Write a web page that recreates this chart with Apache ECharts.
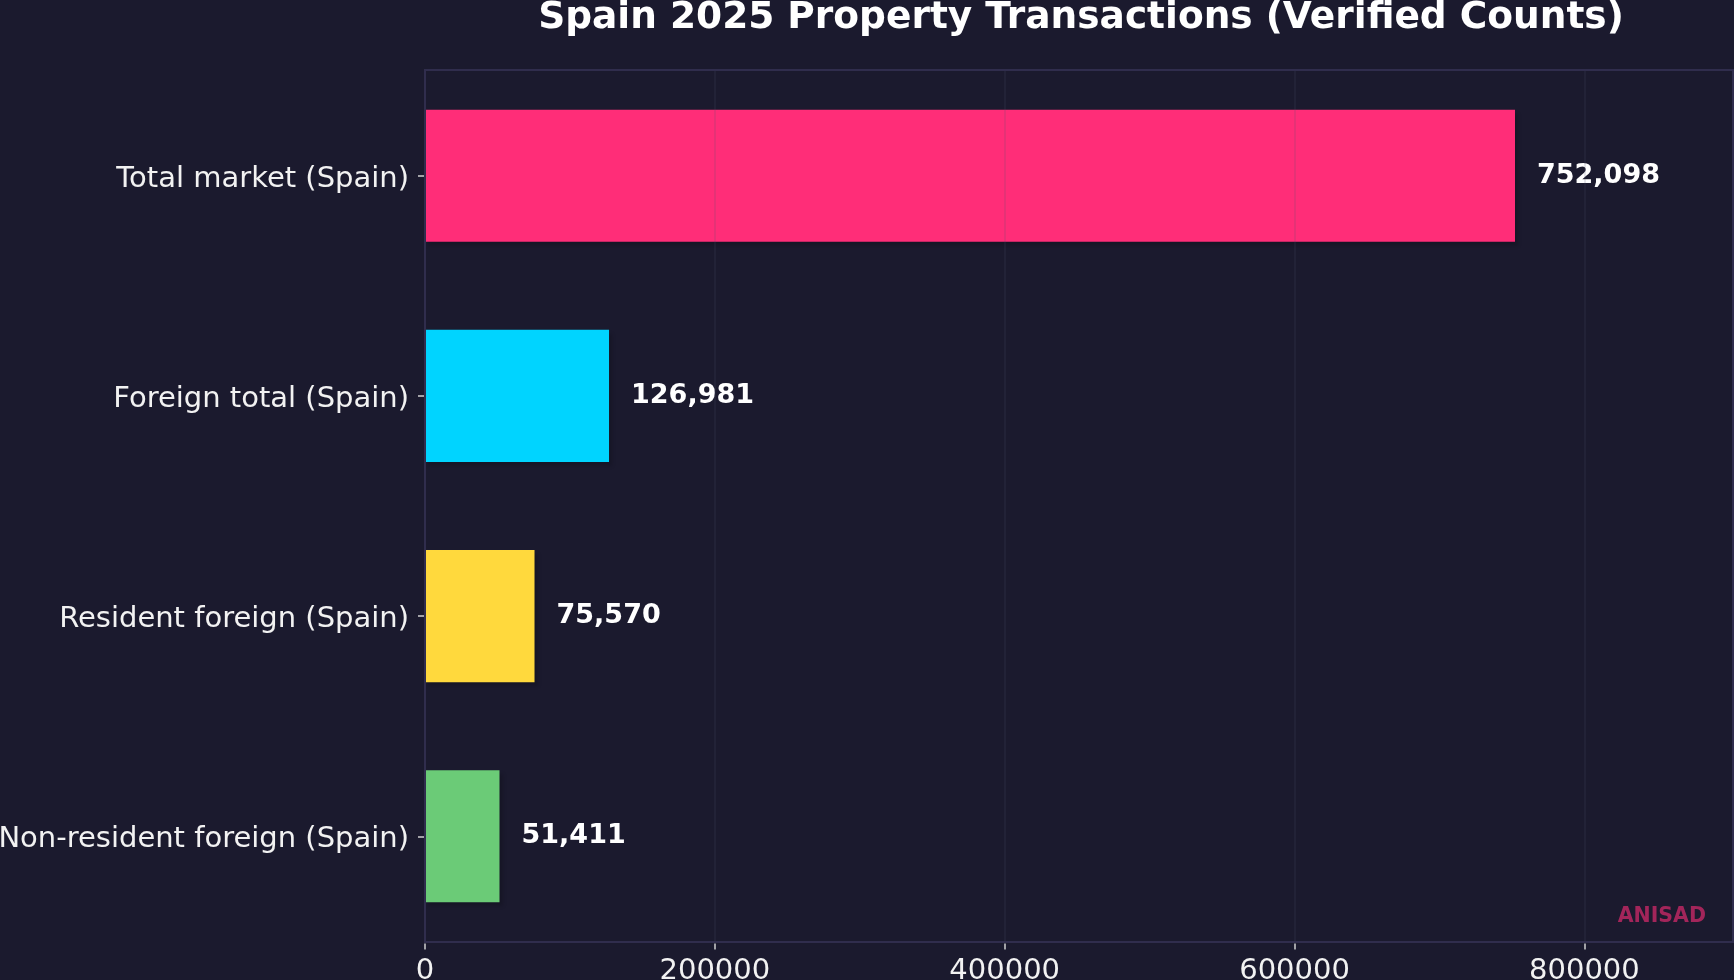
<!DOCTYPE html>
<html>
<head>
<meta charset="utf-8">
<script src="https://cdn.jsdelivr.net/npm/echarts@6/dist/echarts.min.js"></script>
<style>
html,body{margin:0;padding:0;background:#1b1a2e;}
#chart{width:1734px;height:980px;}
</style>
</head>
<body>
<div id="chart"></div>
<script>
const categories = ['Total market (Spain)', 'Foreign total (Spain)', 'Resident foreign (Spain)', 'Non-resident foreign (Spain)'];
const values = [752098, 126981, 75570, 51411];
const xTickStep = 200000;
const titleText = 'Spain 2025 Property Transactions (Verified Counts)';
const watermark = 'ANISAD';

const palette = ['#ff2d78', '#00d4ff', '#ffd93d', '#6bcb77'];
const xMax = Math.max(...values) * 1.2;
const FONT = 'DejaVu Sans';

const chart = echarts.init(document.getElementById('chart'), null, {renderer: 'canvas'});
chart.setOption({
  backgroundColor: '#1b1a2e',
  animation: false,
  title: {
    text: titleText,
    left: 1076,
    textAlign: 'center',
    top: -6,
    textStyle: {color: '#ffffff', fontFamily: FONT, fontWeight: 'bold', fontSize: 37.5}
  },
  grid: [
    {left: 425, right: 1, top: 65.6, bottom: 33.6, containLabel: false, outerBoundsMode: 'none'},
    {left: 425, right: 1, top: 70, bottom: 38, show: true, borderColor: '#302d4d', borderWidth: 2, backgroundColor: 'transparent', z: 4, containLabel: false, outerBoundsMode: 'none'}
  ],
  xAxis: [
    {
      type: 'value', gridIndex: 0, min: 0, max: xMax, interval: xTickStep, offset: -3,
      axisLine: {show: false},
      axisTick: {show: true, length: 6, lineStyle: {color: '#d0d0d0', width: 1.5}},
      axisLabel: {color: '#f2f2f2', fontFamily: FONT, fontSize: 29, margin: 14, showMaxLabel: false,
        formatter: v => String(v)},
      splitLine: {show: false}
    },
    {
      type: 'value', gridIndex: 1, min: 0, max: xMax, interval: xTickStep, z: 3,
      axisLine: {show: false}, axisTick: {show: false}, axisLabel: {show: false},
      splitLine: {show: true, lineStyle: {color: 'rgba(80,80,110,0.2)', width: 1.5}}
    }
  ],
  yAxis: [
    {
      type: 'category', gridIndex: 0, data: categories, inverse: true,
      axisLine: {show: false},
      axisTick: {show: true, length: 7, alignWithLabel: true, lineStyle: {color: '#d0d0d0', width: 1.5}},
      axisLabel: {color: '#f2f2f2', fontFamily: FONT, fontSize: 29, margin: 16, verticalAlign: 'top', lineHeight: 7},
      splitLine: {show: false}
    },
    {type: 'value', gridIndex: 1, show: false, min: 0, max: 1}
  ],
  graphic: [{
    type: 'text', right: 28, top: 906, z: 10,
    style: {text: watermark, fill: 'rgba(255,45,120,0.6)', font: 'bold 20.5px "DejaVu Sans"'}
  }],
  series: [{
    type: 'bar', xAxisIndex: 0, yAxisIndex: 0,
    barWidth: '60%',
    data: values.map((v, i) => ({value: v, itemStyle: {color: palette[i]}})),
    itemStyle: {shadowColor: 'rgba(0,0,0,0.18)', shadowOffsetX: 3, shadowOffsetY: 4, shadowBlur: 4},
    label: {
      show: true, position: 'right', distance: 22,
      color: '#ffffff', fontFamily: FONT, fontWeight: 'bold', fontSize: 27,
      formatter: p => p.value.toLocaleString('en-US')
    }
  }]
});
</script>
</body>
</html>
